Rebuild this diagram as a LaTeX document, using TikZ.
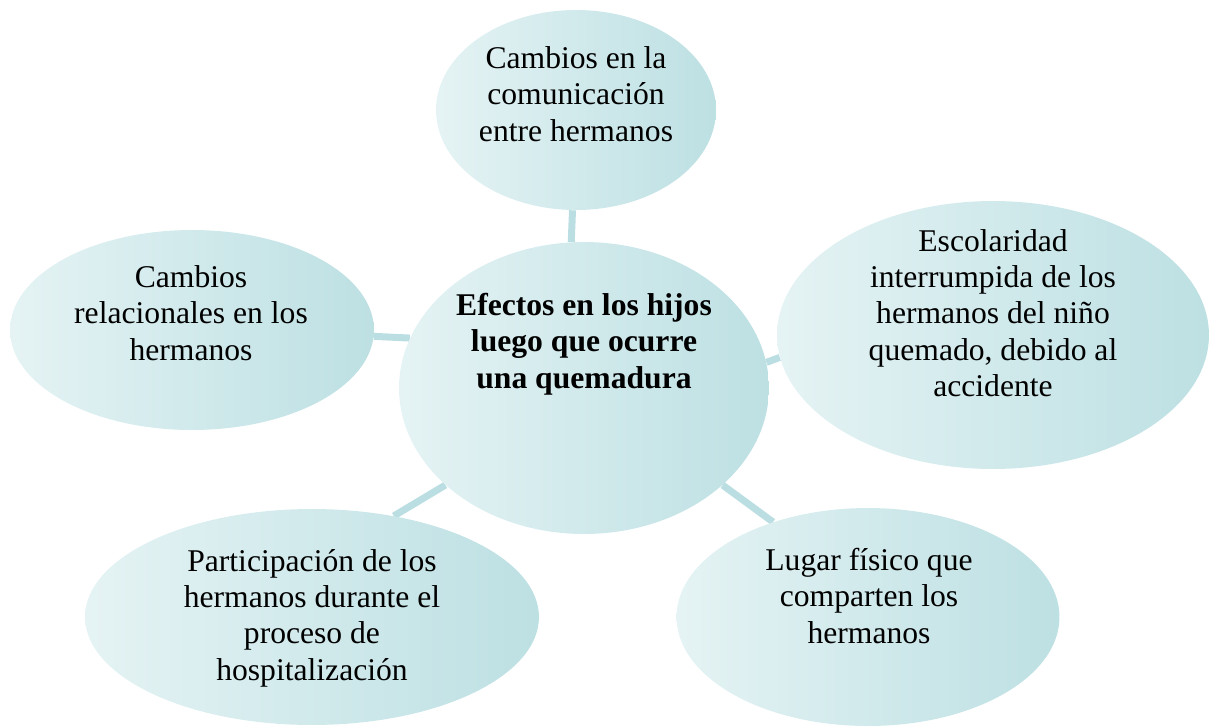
\documentclass[tikz,border=0pt]{standalone}
\usepackage{fontspec}
\setmainfont{Liberation Serif}
\usepackage{tikz}
\usetikzlibrary{
  shapes.geometric,
  backgrounds,
  positioning
}
\definecolor{bublight}{RGB}{229,243,244}
\definecolor{bubdark}{RGB}{189,224,227}
\definecolor{linkteal}{RGB}{187,222,226}

\tikzset{
  bubble/.style={ellipse, draw=none, left color=bublight, right color=bubdark, inner sep=0pt},
  bubtxt/.style={align=center, inner sep=0pt, font=\fontsize{18}{20.7}\selectfont},
  link/.style={line width=0.14cm, color=linkteal}
}

\begin{document}
\begin{tikzpicture}[x=0.02cm, y=-0.02cm]
  \useasboundingbox (0,0) rectangle (1219,727);

  % Centres of the ellipses
  \coordinate (Chub) at (584,388);
  \coordinate (CN) at (576,110);
  \coordinate (CW) at (192,330);
  \coordinate (CE) at (993,335);
  \coordinate (CSW) at (312,617);
  \coordinate (CSE) at (868,617);

  % Ellipses
  \node[bubble, minimum width=7.4cm, minimum height=5.84cm] (hub) at (Chub) {};
  \node[bubble, minimum width=5.6cm, minimum height=4.0cm] (kidN) at (CN) {};
  \node[bubble, minimum width=7.28cm, minimum height=4.0cm] (kidW) at (CW) {};
  \node[bubble, minimum width=8.64cm, minimum height=5.36cm] (kidE) at (CE) {};
  \node[bubble, minimum width=9.08cm, minimum height=4.32cm] (kidSW) at (CSW) {};
  \node[bubble, minimum width=7.66cm, minimum height=4.36cm] (kidSE) at (CSE) {};

  % Connectors behind the ellipses
  \begin{scope}[on background layer]
    \foreach \a/\b in {hub.95/kidN.268, hub.164/kidW.358, hub.8/kidE.186,
                       hub.215/kidSW.51, hub.325/kidSE.135}
      \draw[link] (\a) -- (\b);
  \end{scope}

  % Texts
  \node[bubtxt, font=\fontsize{18}{20.7}\selectfont\bfseries] (hubT) at (584,344)
    {Efectos en los hijos\\luego que ocurre\\una quemadura};
  \node[bubtxt] (kidNT) at (576,94)
    {Cambios en la\\comunicación\\entre hermanos};
  \node[bubtxt] (kidWT) at (191,313)
    {Cambios\\relacionales en los\\hermanos};
  \node[bubtxt] (kidET) at (993,313)
    {Escolaridad\\interrumpida de los\\hermanos del niño\\quemado, debido al\\accidente};
  \node[bubtxt] (kidSWT) at (312,618)
    {Participación de los\\hermanos durante el\\proceso de\\hospitalización};
  \node[bubtxt] (kidSET) at (869,596)
    {Lugar físico que\\comparten los\\hermanos};
\end{tikzpicture}
\end{document}
